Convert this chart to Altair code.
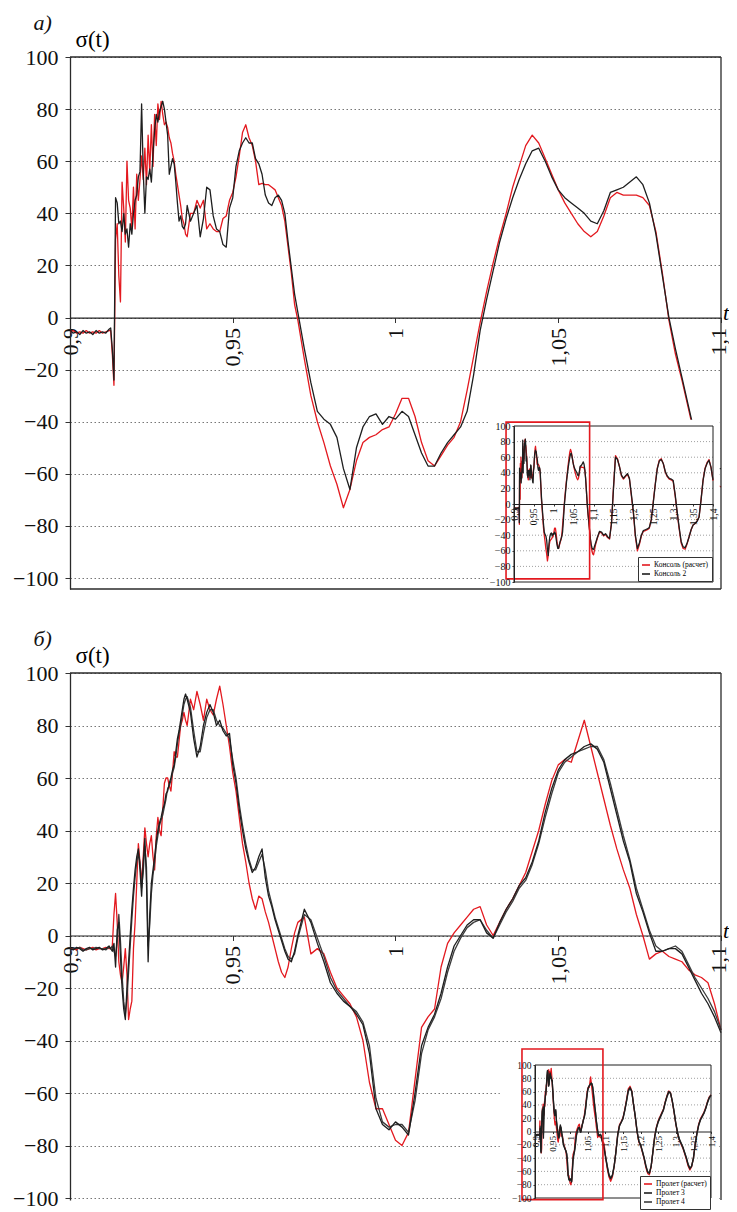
import altair as alt
import pandas as pd

FONT = "Liberation Serif"
RED = "#e3191f"
BLACK = "#1e1e1e"
DARK = "#3c3c3c"
FRAME = "#2a2a2a"

# ---------------- sampling times (s) ----------------
t_seg_a = [round(0.900 + 0.001 * i, 4) for i in range(13)]    # 0.900 .. 0.912
t_seg_b = [round(0.9125 + 0.0005 * i, 4) for i in range(48)]  # 0.9125 .. 0.936
t_seg_c = [round(0.937 + 0.001 * i, 4) for i in range(34)]    # 0.937 .. 0.970
t_seg_d = [round(0.972 + 0.002 * i, 4) for i in range(65)]    # 0.972 .. 1.100
t_main = t_seg_a + t_seg_b + t_seg_c + t_seg_d
t_ext = [round(1.105 + 0.005 * i, 4) for i in range(60)]      # 1.105 .. 1.400

# ---------------- panel a) ----------------
a_red_main = (
    [-5.5, -5, -6, -5.5, -6, -5, -6, -5.5, -6, -5, -6, -5.5, -5]
    + [-5, -14, -26, 30, 36, 16, 6, 52, 42, 29, 60, 45, 42, 34, 50, 34, 55, 45, 53, 62,
       53, 65, 51, 70, 56, 74, 58, 78, 66, 82, 76, 83, 78, 74, 75, 73, 69, 67, 63, 60,
       55, 51, 47, 43, 38, 36, 32, 31]
    + [40, 40, 45, 42, 45, 34, 36, 34, 33, 33, 38, 39, 45, 48, 54, 62, 71, 74, 69, 66,
       60, 51, 51.5, 51, 51, 50, 49, 46, 43, 37, 27, 17, 5, -1]
    + [-16, -30, -40, -48, -57, -64, -73, -66, -55, -48, -46, -45, -43, -42, -37, -31, -31, -38, -48, -55,
       -57, -53, -49, -46, -40, -28, -15, -2, 10, 21, 31, 40, 50, 58, 66, 70, 67, 61, 55, 49,
       44, 40, 36, 33, 31, 33, 39, 46, 48, 47, 47, 47, 46, 43, 33, 17, -1, -14, -24, -35,
       -46, -55, -61, -64, -65]
)
a_black_main = (
    [-5, -6, -5.5, -6.5, -5, -6, -5.5, -6.5, -5, -6, -5.5, -6, -4.5]
    + [-4, -12, -24, 46, 44, 36, 37, 33, 40, 32, 34, 27, 36, 32, 40, 45, 47, 54, 56, 82,
       56, 40, 54, 53, 57, 52, 63, 72, 78, 75, 79, 81, 83, 80, 75, 70, 55, 58, 61, 59,
       52, 44, 37, 39, 35, 34, 36, 43]
    + [37, 40, 43, 31, 38, 50, 49, 39, 34, 33, 28, 27, 42, 46, 58, 64, 67, 69, 67, 67,
       61, 59, 55, 47, 44, 43, 46, 47, 45, 40, 29, 19, 9, 2]
    + [-12, -25, -36, -39, -41, -46, -58, -66, -50, -42, -38, -37, -41, -38, -39, -36, -38, -45, -52, -57,
       -57, -52, -48, -45, -42, -36, -22, -5, 7, 18, 29, 38, 46, 53, 59, 64, 65, 60, 54, 49,
       46, 44, 42, 40, 37, 36, 41, 48, 49, 50, 52, 54, 51, 44, 32, 16, 0, -12, -23, -34,
       -45, -52, -56, -58, -58]
)
a_red_ext = [-52, -43, -36, -37, -41, -39, -43, -45, -24, 22, 62, 58, 48, 36, 32, 35, 38, 32, 10, -12,
             -42, -60, -52, -41, -35, -34, -33, -31, -20, 3, 26, 46, 56, 58, 52, 41, 35, 32, 31, 29,
             10, -12, -32, -50, -57, -58, -51, -42, -33, -27, -25, -22, -16, 6, 31, 46, 53, 57, 47, 30]
a_black_ext = [-50, -42, -35, -36, -40, -38, -42, -44, -25, 20, 60, 57, 48, 37, 33, 36, 39, 33, 12, -10,
               -40, -57, -50, -40, -34, -33, -32, -30, -20, 2, 25, 45, 55, 57, 52, 42, 36, 33, 32, 30,
               12, -10, -30, -48, -55, -56, -50, -42, -33, -27, -25, -22, -17, 5, 30, 45, 52, 56, 47, 31]

# ---------------- panel б) ----------------
b_red_main = (
    [-5, -5, -5.5, -4.5, -5, -5.5, -5, -4.5, -5.5, -5, -5, -4.5, -5]
    + [-5, -4, 8, 16, 5, -10, -15, -18, -12, -5, -15, -32, -28, -25, -5, 5, 20, 35, 28, 20,
       30, 41, 35, 30, 35, 38, 30, 25, 38, 45, 40, 38, 48, 58, 60, 60, 57, 55, 62, 70,
       68, 68, 74, 80, 82, 85, 82, 80]
    + [90, 86, 93, 88, 82, 90, 86, 84, 90, 95, 88, 80, 72, 62, 55, 45, 35, 28, 20, 14,
       10, 15, 14, 9, 5, 0, -5, -10, -14, -16, -12, -5, 1, 5]
    + [7, -7, -5, -7, -14, -20, -23, -26, -31, -40, -56, -66, -66, -72, -78, -80, -75, -55, -35, -31,
       -28, -12, -3, 1, 4, 7, 10, 11, 4, 0, 5, 10, 14, 19, 24, 32, 40, 50, 59, 65,
       67, 66, 74, 82, 72, 62, 52, 42, 33, 25, 18, 8, 0, -9, -7, -6, -8, -9, -10, -13,
       -15, -16, -18, -26, -36]
)
b_p3_main = (
    [-5, -5.5, -4.5, -5, -6, -5, -4.5, -5.5, -5, -4.5, -5.5, -5, -4]
    + [-5, -6, -3, -12, 2, 5, -8, -20, -28, -32, -20, -10, 0, 10, 18, 25, 30, 33, 25, 15,
       28, 37, 20, -10, 8, 20, 25, 30, 36, 40, 43, 45, 48, 50, 54, 55, 58, 60, 63, 65,
       70, 75, 78, 82, 86, 90, 92, 90]
    + [85, 75, 68, 72, 80, 85, 88, 85, 80, 82, 78, 76, 77, 65, 58, 48, 40, 33, 28, 24,
       26, 30, 33, 22, 15, 11, 6, 2, -2, -6, -9, -10, -6, 0]
    + [10, 5, -3, -10, -18, -22, -25, -27, -30, -34, -45, -66, -72, -74, -71, -73, -76, -60, -42, -35,
       -30, -22, -12, -4, 0, 4, 6, 6, 1, -1, 5, 10, 14, 19, 22, 28, 36, 47, 56, 63,
       67, 69, 70, 72, 73, 71, 66, 56, 46, 36, 28, 16, 9, 1, -6, -6, -5, -5, -7, -12,
       -17, -22, -26, -31, -37]
)
b_p4_main = (
    [-5.5, -5, -5, -4.5, -5.5, -5.5, -5, -5, -4.5, -5, -5, -5.5, -4.5]
    + [-5, -4, -6, -8, -2, 8, -2, -15, -25, -30, -24, -14, -4, 6, 15, 22, 28, 31, 28, 18,
       24, 34, 26, -4, 4, 16, 23, 28, 34, 38, 42, 44, 46, 49, 52, 56, 57, 59, 62, 64,
       68, 73, 77, 80, 84, 88, 90, 91]
    + [87, 78, 70, 70, 77, 83, 86, 86, 82, 80, 79, 77, 75, 67, 60, 50, 42, 35, 29, 25,
       25, 28, 31, 25, 17, 12, 7, 3, -1, -5, -8, -9, -7, -1]
    + [8, 6, -1, -8, -16, -21, -24, -27, -29, -33, -42, -62, -71, -73, -72, -72, -75, -63, -45, -36,
       -31, -24, -14, -6, -1, 3, 5, 6, 2, -1, 4, 9, 13, 18, 21, 27, 35, 45, 54, 62,
       66, 68, 70, 71, 72, 72, 67, 58, 48, 38, 29, 18, 10, 2, -4, -6, -5, -4, -6, -11,
       -16, -20, -24, -29, -36]
)
b_red_ext = [-55, -68, -75, -68, -52, -29, -4, 10, 15, 21, 33, 48, 64, 68, 61, 40, 21, -1, -16, -21,
             -31, -41, -54, -63, -65, -53, -30, -7, 7, 16, 22, 28, 34, 45, 54, 61, 58, 45, 29, 11,
             -3, -13, -19, -25, -33, -42, -52, -58, -53, -40, -19, -2, 11, 19, 24, 29, 36, 45, 52, 55]
b_p3_ext = [-52, -66, -71, -66, -52, -30, -5, 9, 14, 20, 32, 46, 62, 66, 60, 40, 22, 0, -15, -20,
            -30, -40, -52, -61, -63, -52, -30, -8, 6, 15, 21, 27, 33, 44, 53, 60, 58, 46, 30, 12,
            -2, -12, -18, -24, -32, -40, -50, -56, -52, -40, -20, -3, 10, 18, 23, 28, 35, 44, 51, 55]
b_p4_ext = [-51, -64, -70, -65, -51, -31, -6, 8, 14, 19, 31, 45, 60, 65, 60, 41, 23, 1, -14, -20,
            -29, -39, -51, -60, -62, -52, -31, -9, 5, 14, 20, 26, 32, 43, 52, 59, 57, 46, 31, 13,
            -1, -11, -17, -23, -31, -39, -49, -55, -52, -41, -21, -4, 9, 17, 22, 27, 34, 43, 50, 54]

# ---------------- ticks / labels ----------------
y_ticks = [-100, -80, -60, -40, -20, 0, 20, 40, 60, 80, 100]
inset_grid = [-80, -60, -40, -20, 20, 40, 60, 80]
x_ticks_main = [0.9, 0.95, 1.0, 1.05, 1.1]
x_ticks_inset = [0.9, 0.95, 1.0, 1.05, 1.1, 1.15, 1.2, 1.25, 1.3, 1.35, 1.4]
names_a = ["Консоль (расчет)", "Консоль 2"]
names_b = ["Пролет (расчет)", "Пролет 3", "Пролет 4"]

COMMA = "replace(toString(datum.value), '.', ',')"


def series_df(t, name, vals):
    assert len(vals) == len(t), (name, len(vals), len(t))
    return pd.DataFrame({"t": t, "v": vals, "s": name})


def box_df(b):
    return pd.DataFrame({"x1": [b[0]], "x2": [b[1]], "y1": [b[2]], "y2": [b[3]]})


def build_panel(label, names, colors, draw_order, main_vals, ext_vals, W, H, ymin,
                ins_xr, ins_yr, bg_box, hl_box, leg_xy, leg_font, ins_font, bottom_border):
    main_map = dict(zip(names, main_vals))
    ext_map = dict(zip(names, ext_vals))
    col_map = dict(zip(names, colors))
    cscale = alt.Scale(domain=names, range=colors)

    zero_off = -H * (0 - ymin) / (100 - ymin)
    xs = alt.Scale(domain=[0.9, 1.1], nice=False, zero=False)
    ys = alt.Scale(domain=[ymin, 100], nice=False, zero=False)
    xa = alt.Axis(values=x_ticks_main, labelExpr=COMMA, orient="bottom", offset=zero_off,
                  labelAngle=270, labelAlign="right", labelBaseline="middle",
                  labelFont=FONT, labelFontSize=22, labelPadding=5, labelFlush=False,
                  labelOffset={"condition": {"test": "datum.value > 1.09", "value": -3},
                               "value": 0},
                  labelOverlap=False, tickSize=5, grid=False, domainWidth=1.2,
                  title="t", titleFont=FONT, titleFontSize=22, titleFontStyle="italic",
                  titleFontWeight="normal", titleAngle=0, titleX=W + 1.5, titleY=2,
                  titleAlign="left", titleBaseline="alphabetic")
    ya = alt.Axis(values=y_ticks, orient="left", labelFont=FONT, labelFontSize=22,
                  labelPadding=7, tickSize=5, grid=True, gridDash=[1.5, 2.5], gridColor="#777",
                  gridWidth=1, labelOverlap=False, domainColor=FRAME, domainWidth=1.3,
                  title="σ(t)", titleFont=FONT, titleFontSize=23, titleFontWeight="normal",
                  titleAngle=0, titleX=5, titleY=-11, titleAlign="left", titleBaseline="alphabetic")
    layers = []
    for i, n in enumerate(draw_order):
        layers.append(
            alt.Chart(series_df(t_main, n, main_map[n]))
            .mark_line(strokeWidth=1.3, strokeJoin="round", color=col_map[n])
            .encode(x=alt.X("t:Q", scale=xs, axis=xa if i == 0 else None),
                    y=alt.Y("v:Q", scale=ys, axis=ya if i == 0 else None))
        )

    # ---- inset ----
    ixs = alt.Scale(domain=[0.9, 1.4], range=ins_xr, nice=False, zero=False)
    iys = alt.Scale(domain=[-100, 100], range=ins_yr, nice=False, zero=False)
    ins_zero = (ins_yr[0] + ins_yr[1]) / 2.0
    ixa = alt.Axis(values=x_ticks_inset, labelExpr=COMMA, orient="bottom", offset=ins_zero - H,
                   labelAngle=270, labelAlign="right", labelBaseline="middle",
                   labelFont=FONT, labelFontSize=ins_font - 0.5, labelPadding=2, labelFlush=False,
                   labelOverlap=False, tickSize=2, grid=False, zindex=2, title=None)
    # the panel letter is carried as this axis' title, placed above the main plot
    iya = alt.Axis(values=y_ticks, orient="left", offset=-ins_xr[0], labelFont=FONT,
                   labelFontSize=ins_font, labelPadding=2, tickSize=2, grid=False, zindex=2,
                   labelOverlap=False,
                   title=label, titleFont=FONT, titleFontSize=22, titleFontStyle="italic",
                   titleFontWeight="normal", titleAngle=0, titleX=33 - 70 - ins_xr[0],
                   titleY=-28, titleAlign="left", titleBaseline="alphabetic", titleColor="#111")

    layers.append(
        alt.Chart(box_df(bg_box)).mark_rect(fill="white", strokeWidth=0)
        .encode(x=alt.X("x1:Q", scale=ixs, axis=None), x2="x2:Q",
                y=alt.Y("y1:Q", scale=iys, axis=None), y2="y2:Q"))
    layers.append(
        alt.Chart(pd.DataFrame({"g": inset_grid, "x1": 0.9, "x2": 1.4}))
        .mark_rule(strokeDash=[1, 2], color="#888", strokeWidth=0.8)
        .encode(x=alt.X("x1:Q", scale=ixs, axis=None), x2="x2:Q",
                y=alt.Y("g:Q", scale=iys, axis=None)))
    layers.append(
        alt.Chart(box_df([0.9, 1.4, -100, 100]))
        .mark_rect(fillOpacity=0, stroke=BLACK, strokeWidth=1)
        .encode(x=alt.X("x1:Q", scale=ixs, axis=ixa), x2="x2:Q",
                y=alt.Y("y1:Q", scale=iys, axis=iya), y2="y2:Q"))
    leg = alt.Legend(orient="none", legendX=leg_xy[0], legendY=leg_xy[1], title=None,
                     symbolType="stroke", symbolSize=64, symbolStrokeWidth=1.6,
                     labelFont=FONT, labelFontSize=leg_font, labelOffset=3,
                     strokeColor="#333", fillColor="white", padding=3, rowPadding=0,
                     labelLimit=200, zindex=3)
    for n in draw_order:
        layers.append(
            alt.Chart(series_df(t_main + t_ext, n, main_map[n] + ext_map[n]))
            .mark_line(strokeWidth=1.3, strokeJoin="round")
            .encode(x=alt.X("t:Q", scale=ixs, axis=None),
                    y=alt.Y("v:Q", scale=iys, axis=None),
                    color=alt.Color("s:N", scale=cscale, legend=leg))
        )
    layers.append(
        alt.Chart(box_df(hl_box)).mark_rect(fillOpacity=0, stroke=RED, strokeWidth=1.6)
        .encode(x=alt.X("x1:Q", scale=ixs, axis=None), x2="x2:Q",
                y=alt.Y("y1:Q", scale=iys, axis=None), y2="y2:Q"))

    # ---- frame of the main plot (top, right, optional bottom) ----
    hb = pd.DataFrame({"y": [100] + ([ymin] if bottom_border else []), "x1": 0.9, "x2": 1.1})
    layers.append(
        alt.Chart(hb).mark_rule(color=FRAME, strokeWidth=1.3)
        .encode(x=alt.X("x1:Q", scale=xs, axis=None), x2="x2:Q",
                y=alt.Y("y:Q", scale=ys, axis=None)))
    layers.append(
        alt.Chart(pd.DataFrame({"x": [1.1], "y1": [ymin], "y2": [100]}))
        .mark_rule(color=FRAME, strokeWidth=1.3)
        .encode(x=alt.X("x:Q", scale=xs, axis=None),
                y=alt.Y("y1:Q", scale=ys, axis=None), y2="y2:Q"))

    return alt.layer(*layers).resolve_scale(
        x="independent", y="independent").properties(width=W, height=H)


panel_a = build_panel(
    "а)", names_a, [RED, BLACK], names_a,
    [a_red_main, a_black_main], [a_red_ext, a_black_ext],
    W=651, H=532, ymin=-104.2,
    ins_xr=[444, 643], ins_yr=[525, 369],
    bg_box=[0.835, 1.417, -107.5, 108], hl_box=[0.88, 1.09, -96, 105],
    leg_xy=[568, 500], leg_font=7.5, ins_font=10, bottom_border=True)

panel_b = build_panel(
    "б)", names_b, [RED, BLACK, DARK], [names_b[0], names_b[2], names_b[1]],
    [b_red_main, b_p3_main, b_p4_main], [b_red_ext, b_p3_ext, b_p4_ext],
    W=651, H=527, ymin=-100.76,
    ins_xr=[465, 641], ins_yr=[525, 392],
    bg_box=[0.80, 1.4235, -102.9, 132], hl_box=[0.863, 1.093, -102.5, 124],
    leg_xy=[570, 503], leg_font=7.5, ins_font=9.5, bottom_border=False)

chart = alt.vconcat(panel_a, panel_b, spacing=37).resolve_scale(
    color="independent").configure_view(strokeWidth=0).configure_axis(
    labelColor="#111", tickColor="#333", domainColor="#222").properties(
    padding={"left": 4, "top": 3, "right": 0, "bottom": 0})

chart.save("out.html", embed_options={"renderer": "svg", "actions": False})
